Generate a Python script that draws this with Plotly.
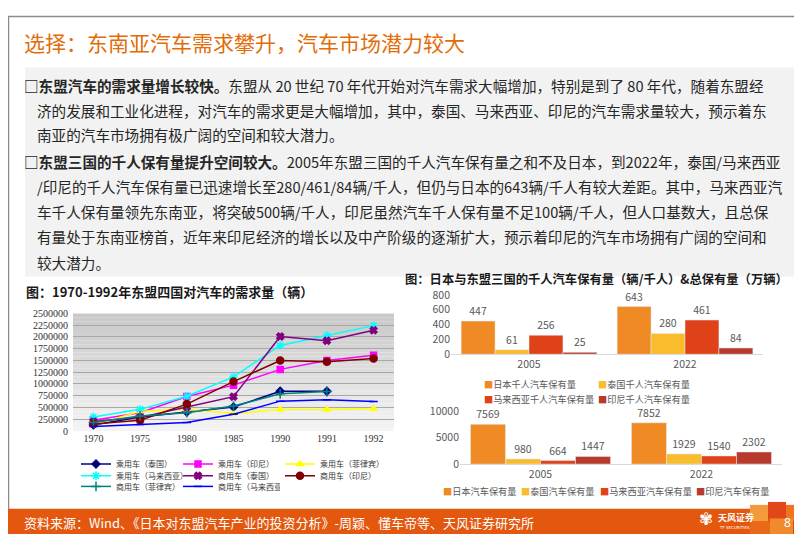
import plotly.graph_objects as go

W, H = 802, 534
CJK = "Noto Sans CJK SC"
SERIF = "Liberation Serif, Noto Sans CJK SC"

# ---- data: ASEAN vehicle demand 1970-1992 (units) ----
years = ["1970", "1975", "1980", "1985", "1990", "1991", "1992"]
car_thailand = [130000, 300000, 405000, 510000, 845000, 845000, None]
car_indonesia = [230000, 390000, 735000, 975000, 1310000, 1500000, 1610000]
car_philippines = [125000, 420000, 460000, 370000, 455000, 455000, 475000]
car_malaysia = [300000, 460000, 740000, 1150000, 1820000, 2030000, 2240000]
cv_thailand = [200000, 290000, 510000, 730000, 2010000, 1920000, 2140000]
cv_indonesia = [147000, 230000, 572000, 1050000, 1500000, 1470000, 1540000]
cv_philippines = [180000, 320000, 390000, 530000, 790000, 840000, None]
cv_malaysia = [98000, 140000, 182000, 356000, 635000, 664000, 628000]

# ---- data: vehicles per 1000 people and total stock (10k units) ----
own_years = ["2005", "2022"]
per1000_japan = [447, 643]
per1000_thailand = [61, 280]
per1000_malaysia = [256, 461]
per1000_indonesia = [25, 84]
total_japan = [7569, 7852]
total_thailand = [980, 1929]
total_malaysia = [664, 1540]
total_indonesia = [1447, 2302]


def px(x):
    return x / W


def py(y):
    return 1 - y / H


fig = go.Figure()

# left line chart
demand = [
    ("乘用车（泰国）", car_thailand, "#000080", "diamond", 6, "legend"),
    ("乘用车（印尼）", car_indonesia, "#FF00FF", "square", 6, "legend"),
    ("乘用车（菲律宾）", car_philippines, "#FFFF00", "triangle-up", 6, "legend"),
    ("乘用车（马来西亚）", car_malaysia, "#00FFFF", "asterisk-open", 7, "legend2"),
    ("商用车（泰国）", cv_thailand, "#800080", "x", 6, "legend2"),
    ("商用车（印尼）", cv_indonesia, "#800000", "circle", 7, "legend2"),
    ("商用车（菲律宾）", cv_philippines, "#008080", "cross-thin-open", 7, "legend3"),
    ("商用车（马来西亚）", cv_malaysia, "#0000FF", "line-ew-open", 6, "legend3"),
]
for name, vals, col, sym, sz, leg in demand:
    fig.add_trace(go.Scatter(
        x=years, y=vals, name=name, mode="lines+markers", legend=leg,
        line=dict(color=col, width=1.5),
        marker=dict(symbol=sym, size=sz, color=col, line=dict(color=col, width=1.5)),
        xaxis="x", yaxis="y"))

# right bar charts
bar_colors = ["#F08A24", "#F9BC2C", "#DF4219", "#B83A2C"]
per1000 = [("日本千人汽车保有量", per1000_japan), ("泰国千人汽车保有量", per1000_thailand),
           ("马来西亚千人汽车保有量", per1000_malaysia), ("印尼千人汽车保有量", per1000_indonesia)]
totals = [("日本汽车保有量", total_japan), ("泰国汽车保有量", total_thailand),
          ("马来西亚汽车保有量", total_malaysia), ("印尼汽车保有量", total_indonesia)]
for (name, vals), col in zip(per1000, bar_colors):
    fig.add_trace(go.Bar(x=own_years, y=vals, name=name, marker_color=col, showlegend=False,
                         text=vals, textposition="outside", cliponaxis=False,
                         textfont=dict(family=CJK, size=10.5, color="#595959"),
                         xaxis="x2", yaxis="y2"))
for (name, vals), col in zip(totals, bar_colors):
    fig.add_trace(go.Bar(x=own_years, y=vals, name=name, marker_color=col, showlegend=False,
                         text=vals, textposition="outside", cliponaxis=False,
                         textfont=dict(family=CJK, size=10.5, color="#595959"),
                         xaxis="x3", yaxis="y3"))

shapes = [
    dict(type="rect", xref="paper", yref="paper", x0=px(0.5), x1=px(801.5), y0=py(508), y1=py(0.5),
         line=dict(color="#8C8C8C", width=1.5), fillcolor="rgba(0,0,0,0)", layer="below"),
    dict(type="rect", xref="paper", yref="paper", x0=px(17), x1=px(786), y0=py(268), y1=py(53),
         line=dict(width=0), fillcolor="#F2F2F2", layer="below"),
    dict(type="rect", xref="paper", yref="paper", x0=0, x1=1, y0=0, y1=py(507),
         line=dict(width=0), fillcolor="#E4570E", layer="below"),
]
# footer mosaic
for x0, x1, y0, y1, c in [(742, 760, 503, 520, "#F39A3A"), (760, 778, 500, 517, "#E0481A"),
                          (778, 802, 503, 520, "#EE7420"), (742, 762, 520, 534, "#E86A18"),
                          (762, 785, 517, 534, "#F08A2C"), (785, 802, 520, 534, "#D94614")]:
    shapes.append(dict(type="rect", xref="paper", yref="paper", x0=px(x0), x1=px(x1),
                       y0=py(y1), y1=py(y0), line=dict(width=0), fillcolor=c, layer="below"))
# gradient background of the left plot
n = 30
for i in range(n):
    t = i / (n - 1)
    g = int(0xC9 + (0xF4 - 0xC9) * t)
    shapes.append(dict(type="rect", xref="x domain", yref="y domain", x0=0, x1=1,
                       y0=1 - (i + 1) / n, y1=1 - i / n, line=dict(width=0),
                       fillcolor=f"rgb({g},{g},{g})", layer="below"))

ann = []


def text(x, y, s, size, color="#262626", family=CJK, anchor="left"):
    ann.append(dict(x=px(x), y=py(y), xref="paper", yref="paper", text=s, showarrow=False,
                    xanchor=anchor, yanchor="middle", font=dict(family=family, size=size, color=color)))


text(14, 27, "选择：东南亚汽车需求攀升，汽车市场潜力较大", 21, "#E36C09")

lines = [
    (14, 72, "<b>□东盟汽车的需求量增长较快。</b>东盟从 20 世纪 70 年代开始对汽车需求大幅增加，特别是到了 80 年代，随着东盟经"),
    (27, 97, "济的发展和工业化进程，对汽车的需求更是大幅增加，其中，泰国、马来西亚、印尼的汽车需求量较大，预示着东"),
    (27, 122, "南亚的汽车市场拥有极广阔的空间和较大潜力。"),
    (14, 150, "<b>□东盟三国的千人保有量提升空间较大。</b>2005年东盟三国的千人汽车保有量之和不及日本，到2022年，泰国/马来西亚"),
    (27, 175, "/印尼的千人汽车保有量已迅速增长至280/461/84辆/千人，但仍与日本的643辆/千人有较大差距。其中，马来西亚汽"),
    (27, 201, "车千人保有量领先东南亚，将突破500辆/千人，印尼虽然汽车千人保有量不足100辆/千人，但人口基数大，且总保"),
    (27, 227, "有量处于东南亚榜首，近年来印尼经济的增长以及中产阶级的逐渐扩大，预示着印尼的汽车市场拥有广阔的空间和"),
    (27, 254, "较大潜力。"),
]
for x, y, s in lines:
    text(x, y, s, 14.6)

text(16, 283, "<b>图：1970-1992年东盟四国对汽车的需求量（辆）</b>", 13, "#1A1A1A")
text(395, 271, "<b>图：日本与东盟三国的千人汽车保有量（辆/千人）&总保有量（万辆）</b>", 12.3, "#1A1A1A")

# bar chart legends
for x, y, (name, _), col in [(474, 379, per1000[0], bar_colors[0]), (588, 379, per1000[1], bar_colors[1]),
                             (474, 394, per1000[2], bar_colors[2]), (588, 394, per1000[3], bar_colors[3])]:
    text(x, y, f"<span style='color:{col}'>■</span>{name}", 9.2, "#595959")
for x, (name, _), col in zip([433, 511, 590, 686], totals, bar_colors):
    text(x, 489, f"<span style='color:{col}'>■</span>{name}", 9.2, "#595959")

# footer
text(14, 521, "资料来源：Wind、《日本对东盟汽车产业的投资分析》-周颖、懂车帝等、天风证券研究所", 13, "white")
text(698, 518, "✾", 17, "white", "DejaVu Sans", "center")
text(708, 516, "<b>天风证券</b>", 9, "white")
text(709, 526, "TF SECURITIES", 4, "white", "DejaVu Sans")
text(779, 521, "8", 12, "white", "Noto Sans", "center")

legend_common = dict(orientation="h", xanchor="left", yanchor="middle", bgcolor="rgba(0,0,0,0)",
                     font=dict(family=SERIF, size=8, color="#333333"), entrywidth=57,
                     entrywidthmode="pixels", itemwidth=30, traceorder="normal")

fig.update_layout(
    width=W, height=H, margin=dict(l=0, r=0, t=0, b=0),
    paper_bgcolor="white", plot_bgcolor="rgba(0,0,0,0)",
    barmode="group", bargap=0.13, bargroupgap=0,
    shapes=shapes, annotations=ann,
    legend=dict(legend_common, x=px(68), y=py(461)),
    legend2=dict(legend_common, x=px(68), y=py(473)),
    legend3=dict(legend_common, x=px(68), y=py(484)),
    xaxis=dict(domain=[px(65), px(386)], anchor="y", type="category", showgrid=False, ticks="",
               tickfont=dict(family=SERIF, size=10, color="#333333"), showline=False),
    yaxis=dict(domain=[py(427), py(306)], anchor="x", range=[0, 2500000], dtick=250000,
               tickformat="d", showgrid=True, gridcolor="#A8A8A8", gridwidth=1, zeroline=False,
               ticks="", ticklabelstandoff=4,
               tickfont=dict(family=SERIF, size=10, color="#333333")),
    xaxis2=dict(domain=[px(443), px(755)], anchor="y2", type="category", showgrid=False, ticks="",
                showline=True, linecolor="#D9D9D9", linewidth=1,
                tickfont=dict(family=CJK, size=10.5, color="#595959")),
    yaxis2=dict(domain=[py(348), py(287)], anchor="x2", range=[0, 800], dtick=200, showgrid=False,
                zeroline=False, ticks="", tickfont=dict(family=CJK, size=10.5, color="#595959")),
    xaxis3=dict(domain=[px(452), px(774)], anchor="y3", type="category", showgrid=False, ticks="",
                showline=True, linecolor="#D9D9D9", linewidth=1,
                tickfont=dict(family=CJK, size=10.5, color="#595959")),
    yaxis3=dict(domain=[py(461), py(407)], anchor="x3", range=[0, 10000], dtick=5000, showgrid=False,
                tickformat="d", zeroline=False, ticks="",
                tickfont=dict(family=CJK, size=10.5, color="#595959")),
)

fig.write_html("out.html")
